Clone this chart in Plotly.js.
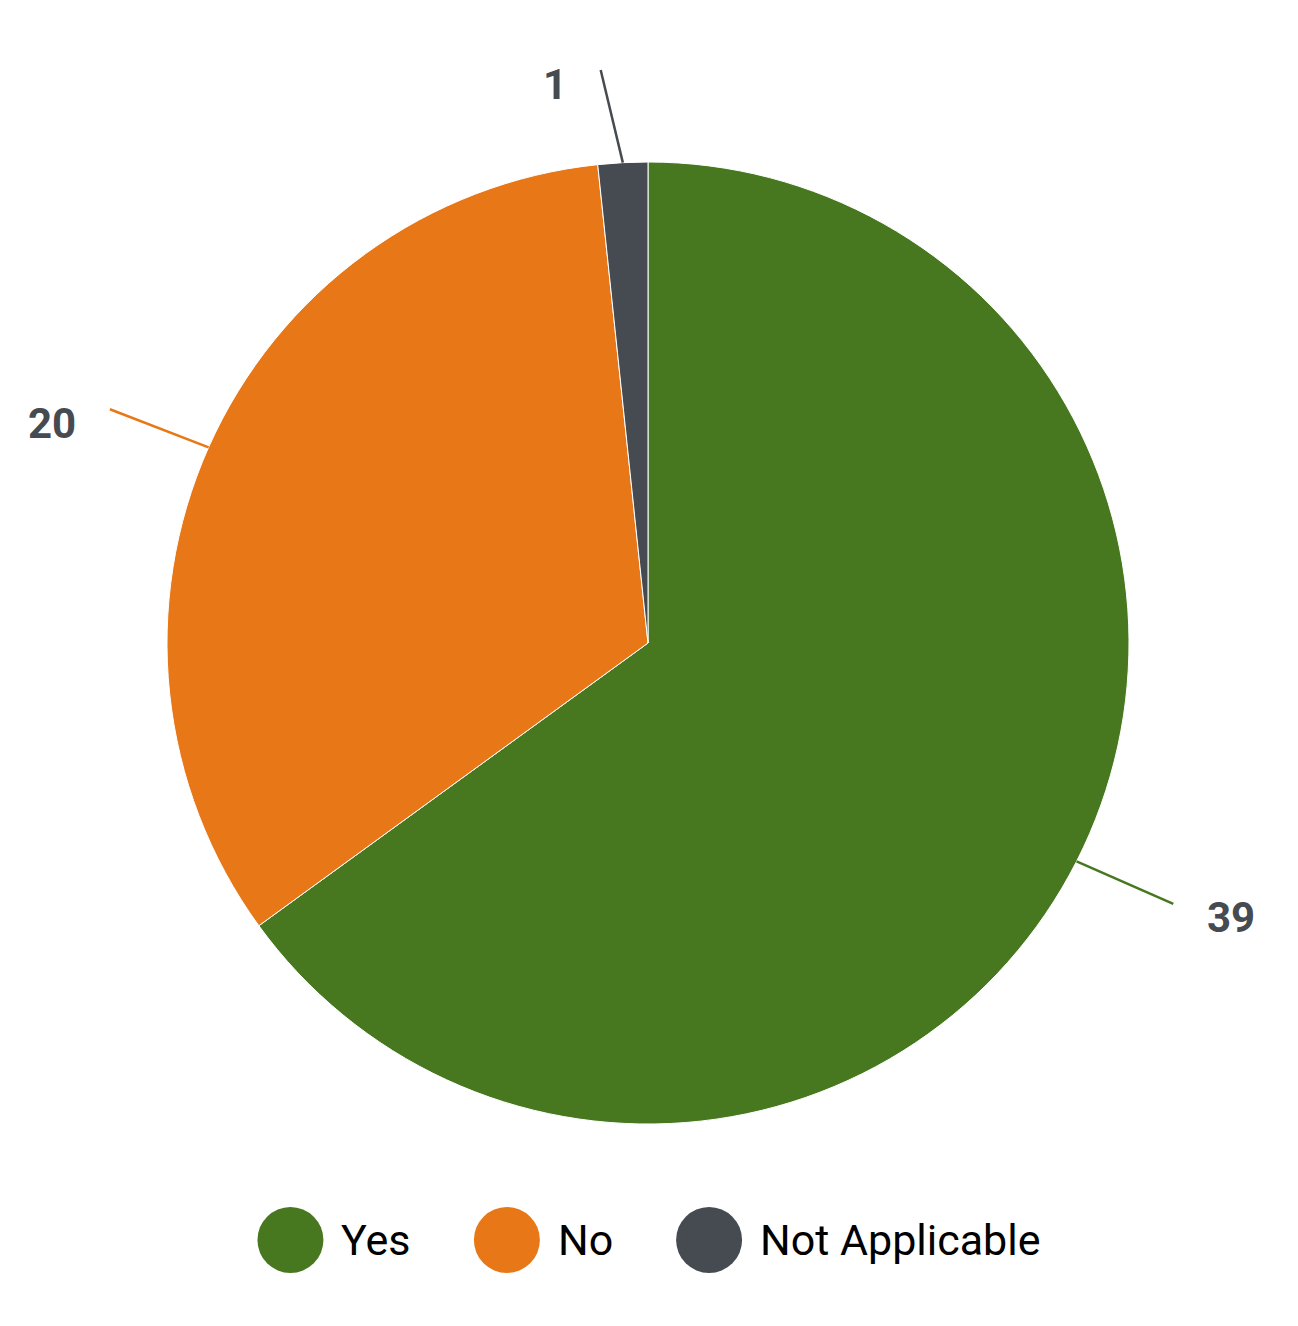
<!DOCTYPE html>
<html><head><meta charset="utf-8">
<script src="https://cdn.plot.ly/plotly-3.0.1.min.js"></script>
<style>html,body{margin:0;padding:0;background:#fff}#chart{width:1298px;height:1326px}</style>
</head><body><div id="chart"></div>
<script>
const categories = ['Yes', 'No', 'Not Applicable'];
const counts = [39, 20, 1];
const colors = ['#47781f', '#e87817', '#464a51'];

const W = 1298, H = 1326;
const CX = 648, CY = 643, R = 481;
const px = x => x / W, py = y => 1 - y / H;

const total = counts.reduce((a, b) => a + b, 0);
const shapes = [], annotations = [];
let cum = 0;
counts.forEach((v, i) => {
  const mid = (cum + v / 2) / total * 2 * Math.PI; cum += v;
  const ex = CX + R * Math.sin(mid), ey = CY - R * Math.cos(mid);
  const dx = Math.sin(mid), dy = -Math.cos(mid);
  let phi = Math.atan2(-dy, Math.abs(dx));
  phi *= 0.88;
  const sx = dx >= 0 ? 1 : -1;
  const L = 106 - 12 * Math.abs(Math.sin(phi)) ** 4;
  const lx = ex + sx * L * Math.cos(phi), ly = ey - L * Math.sin(phi);
  shapes.push({type: 'line', xref: 'paper', yref: 'paper', x0: px(ex), y0: py(ey), x1: px(lx), y1: py(ly),
    line: {color: colors[i], width: 2.5}});
  annotations.push({xref: 'paper', yref: 'paper', x: px(lx + sx * 32), y: py(ly + 14),
    xanchor: sx > 0 ? 'left' : 'right', yanchor: 'middle', text: '<b>' + v + '</b>', showarrow: false,
    font: {family: 'Roboto', size: 42, color: '#464a51'}});
});

// custom legend with large circles
const LEG_Y = 1240, LEG_R = 33, LEG_GAP_TXT = 16, LEG_GAP_ITEM = 65, LEG_FONT = 43;
const ctx = document.createElement('canvas').getContext('2d');
ctx.font = LEG_FONT + 'px Roboto';
const widths = categories.map(c => ctx.measureText(c).width);
const itemW = widths.map(w => 2 * LEG_R + LEG_GAP_TXT + w);
const totalW = itemW.reduce((a, b) => a + b, 0) + LEG_GAP_ITEM * (categories.length - 1);
let x = CX - totalW / 2;
categories.forEach((c, i) => {
  shapes.push({type: 'circle', xref: 'paper', yref: 'paper',
    x0: px(x), x1: px(x + 2 * LEG_R), y0: py(LEG_Y + LEG_R), y1: py(LEG_Y - LEG_R),
    fillcolor: colors[i], line: {width: 0}});
  annotations.push({xref: 'paper', yref: 'paper', x: px(x + 2 * LEG_R + LEG_GAP_TXT), y: py(LEG_Y),
    xanchor: 'left', yanchor: 'middle', text: c, showarrow: false,
    font: {family: 'Roboto', size: LEG_FONT, color: '#000000'}});
  x += itemW[i] + LEG_GAP_ITEM;
});

const trace = {
  type: 'pie', labels: categories, values: counts, sort: false, direction: 'clockwise', rotation: 0,
  marker: {colors: colors, line: {color: '#ffffff', width: 1}},
  textinfo: 'none', hoverinfo: 'none', showlegend: false,
  domain: {x: [px(CX - R), px(CX + R)], y: [py(CY + R), py(CY - R)]}
};

Plotly.newPlot('chart', [trace], {
  width: W, height: H, margin: {l: 0, r: 0, t: 0, b: 0},
  paper_bgcolor: '#ffffff', showlegend: false,
  font: {family: 'Roboto'}, shapes: shapes, annotations: annotations
}, {displayModeBar: false, staticPlot: true});
</script></body></html>
